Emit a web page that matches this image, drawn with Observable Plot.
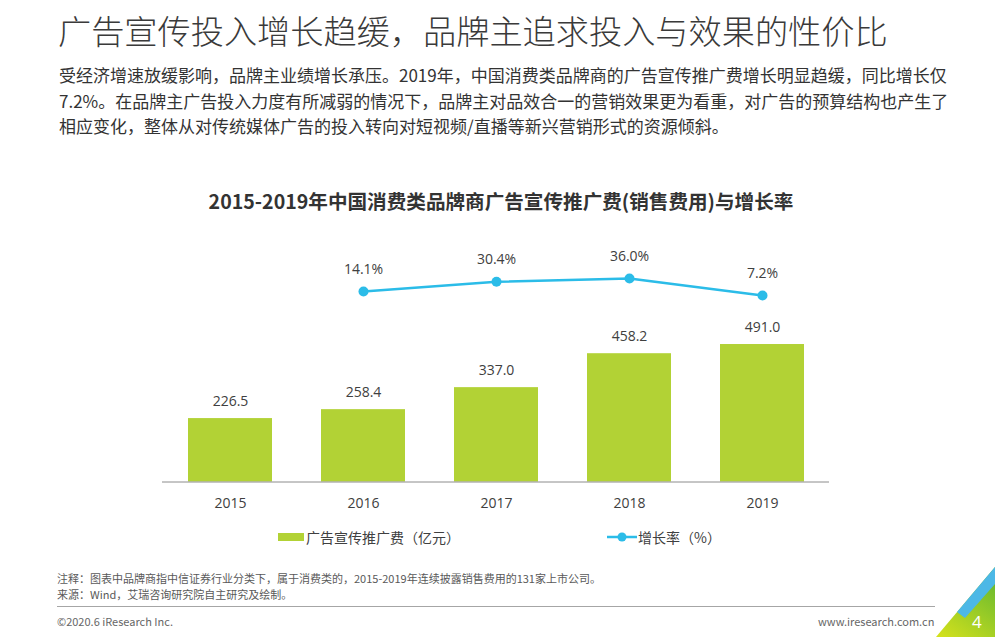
<!DOCTYPE html>
<html><head><meta charset="utf-8">
<script src="https://cdn.jsdelivr.net/npm/d3@7"></script>
<script src="https://cdn.jsdelivr.net/npm/@observablehq/plot@0.6"></script>
<style>
html,body{margin:0;padding:0;background:#fff;}
#page{position:relative;width:995px;height:637px;overflow:hidden;font-family:"Noto Sans CJK SC","Noto Sans",sans-serif;color:#404040;}
.abs{position:absolute;white-space:nowrap;}
#title{left:58px;top:8px;font-size:33.2px;font-weight:300;color:#3a3a3a;line-height:44px;}
#para{left:59px;top:62px;font-size:17px;line-height:25.5px;color:#333;}
#ctitle{left:0;width:1002px;top:187px;text-align:center;font-size:19.6px;font-weight:bold;color:#333;line-height:28px;}
.leg{font-size:14px;color:#404040;line-height:18px;}
.note{font-size:11px;color:#595959;line-height:12px;}
#bars,#line{position:absolute;left:0;top:220px;}
#line{pointer-events:none;}
</style></head>
<body><div id="page">
<div class="abs" id="title">广告宣传投入增长趋缓，品牌主追求投入与效果的性价比</div>
<div class="abs" id="para">受经济增速放缓影响，品牌主业绩增长承压。2019年，中国消费类品牌商的广告宣传推广费增长明显趋缓，同比增长仅<br>7.2%。在品牌主广告投入力度有所减弱的情况下，品牌主对品效合一的营销效果更为看重，对广告的预算结构也产生了<br>相应变化，整体从对传统媒体广告的投入转向对短视频/直播等新兴营销形式的资源倾斜。</div>
<div class="abs" id="ctitle">2015-2019年中国消费类品牌商广告宣传推广费(销售费用)与增长率</div>
<div id="bars"></div>
<div id="line"></div>
<div class="abs" style="left:278px;top:533px;width:26px;height:8px;background:#b2d235;"></div>
<div class="abs leg" style="left:306px;top:528px;">广告宣传推广费（亿元）</div>
<svg class="abs" style="left:606px;top:530px;" width="32" height="14"><line x1="1" y1="7" x2="31" y2="7" stroke="#2bbce8" stroke-width="2.5"/><circle cx="16" cy="7" r="4.5" fill="#2bbce8"/></svg>
<div class="abs leg" style="left:638px;top:528px;">增长率（%）</div>
<div class="abs note" style="left:57px;top:572px;">注释：图表中品牌商指中信证券行业分类下，属于消费类的，2015-2019年连续披露销售费用的131家上市公司。</div>
<div class="abs note" style="left:57px;top:588px;">来源：Wind，艾瑞咨询研究院自主研究及绘制。</div>
<div class="abs" style="left:57px;top:606px;width:878px;height:1px;background:#a6a6a6;"></div>
<div class="abs note" style="left:57px;top:615px;color:#666;">©2020.6 iResearch Inc.</div>
<div class="abs note" style="left:818px;top:615px;color:#666;">www.iresearch.com.cn</div>
<svg class="abs" style="left:930px;top:560px;" width="65" height="77">
<defs><linearGradient id="gg" x1="0" y1="1" x2="0.6" y2="0"><stop offset="0" stop-color="#d6e21c"/><stop offset="1" stop-color="#6dbb2e"/></linearGradient></defs>
<polygon points="6,77 65,7 65,77" fill="url(#gg)"/>
<polygon points="27,52 65,7 65,24 35,58" fill="#4cb8e6"/>
<text x="42" y="68" fill="#fff" font-size="17" font-family="Open Sans,sans-serif">4</text>
</svg>
</div>
<script>
const years = ["2015","2016","2017","2018","2019"];
const spend = [226.5, 258.4, 337.0, 458.2, 491.0];
const growthYears = ["2016","2017","2018","2019"];
const growth = [14.1, 30.4, 36.0, 7.2];

const barData = years.map((y,i)=>({year:y, v:spend[i]}));
const lineData = growthYears.map((y,i)=>({year:y, g:growth[i]}));

const xOpts = {domain: years, paddingInner: 0.37, paddingOuter: 0.185};
const font = "'Open Sans','Noto Sans CJK SC',sans-serif";

const bars = Plot.plot({
  width: 995, height: 300,
  marginLeft: 162, marginRight: 166, marginTop: 121.5, marginBottom: 38.5,
  x: {...xOpts, axis: null},
  y: {domain: [0, 500], axis: null},
  style: {fontFamily: font, fontSize: "14px", color: "#404040", background: "transparent"},
  marks: [
    Plot.barY(barData, {x: "year", y: "v", fill: "#b2d235"}),
    Plot.ruleY([0], {stroke: "#8c8c8c", strokeWidth: 1}),
    Plot.text(barData, {x: "year", y: "v", text: d => d.v.toFixed(1), dy: -17, fontSize: 14, fill: "#404040"}),
    Plot.axisX({tickSize: 0, tickPadding: 16, fontSize: 14, fill: "#404040", label: null})
  ]
});
document.getElementById("bars").appendChild(bars);

const line = Plot.plot({
  width: 995, height: 300,
  marginLeft: 162, marginRight: 166, marginTop: 55.6, marginBottom: 220.75,
  x: {...xOpts, axis: null},
  y: {domain: [0, 40], axis: null},
  style: {fontFamily: font, fontSize: "14px", color: "#404040", background: "transparent", overflow: "visible"},
  marks: [
    Plot.line(lineData, {x: "year", y: "g", stroke: "#2bbce8", strokeWidth: 2.5}),
    Plot.dot(lineData, {x: "year", y: "g", r: 5, fill: "#2bbce8"}),
    Plot.text(lineData, {x: "year", y: "g", text: d => d.g.toFixed(1) + "%", dy: -22, fontSize: 14, fill: "#404040"})
  ]
});
document.getElementById("line").appendChild(line);
</script>
</body></html>
